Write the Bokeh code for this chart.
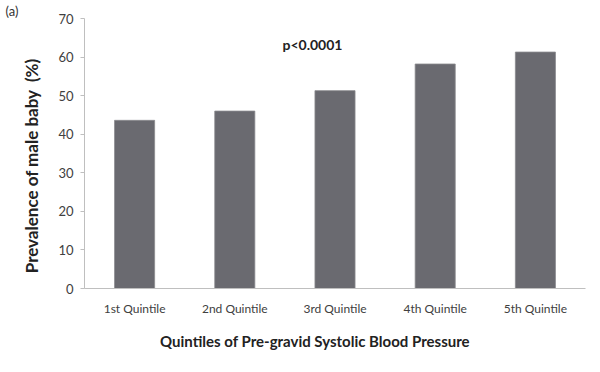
from bokeh.plotting import figure
from bokeh.models import Label, Range1d
from bokeh.embed import file_html
from bokeh.resources import INLINE

categories = ["1st Quintile", "2nd Quintile", "3rd Quintile", "4th Quintile", "5th Quintile"]
prevalence = [43.6, 46.0, 51.3, 58.2, 61.3]
y_ticks = [0, 10, 20, 30, 40, 50, 60, 70]

W, H = 600, 372
FL, FR, FT, FB = 84, 585, 18, 288   # frame edges in page pixels
FONT = "Lato"
NB = "\u00a0"

p = figure(x_range=categories, width=W, height=H, output_backend="svg",
           toolbar_location=None, min_border_left=FL, min_border_right=W - FR,
           min_border_top=FT, min_border_bottom=H - FB)
p.y_range = Range1d(0, 70)
p.vbar(x=categories, top=prevalence, width=0.4, fill_color="#6a6a70",
       line_color="#8a8a8e", line_width=0.8)

p.grid.visible = False
p.outline_line_color = None
p.background_fill_color = "white"
p.border_fill_color = "white"

p.title.text = "(a)"
p.title.text_font = FONT
p.title.text_font_size = "13px"
p.title.text_font_style = "normal"
p.title.text_color = "#333333"
p.title.align = "left"
p.title.offset = -79
p.title.standoff = 0

p.yaxis.ticker = y_ticks
p.yaxis.axis_line_color = "#bfbfbf"
p.yaxis.major_tick_line_color = "#bfbfbf"
p.yaxis.major_tick_out = 4
p.yaxis.major_tick_in = 0
p.yaxis.minor_tick_line_color = None
p.yaxis.major_label_text_font = FONT
p.yaxis.major_label_text_font_size = "13px"
p.yaxis.major_label_text_color = "#404040"
p.yaxis.major_label_standoff = 7
p.yaxis.axis_label = "Prevalence of male baby" + NB + " (%)" + NB * 6
p.yaxis.axis_label_text_font = FONT
p.yaxis.axis_label_text_font_size = "17px"
p.yaxis.axis_label_text_font_style = "bold"
p.yaxis.axis_label_text_color = "#222222"
p.yaxis.axis_label_standoff = 13

p.xaxis.axis_line_color = "#bfbfbf"
p.xaxis.major_tick_line_color = None
p.xaxis.minor_tick_line_color = None
p.xaxis.major_label_text_font = FONT
p.xaxis.major_label_text_font_size = "12px"
p.xaxis.major_label_text_color = "#404040"
p.xaxis.major_label_standoff = 6
p.xaxis.axis_label = "Quintiles of Pre-gravid Systolic Blood Pressure" + NB * 11
p.xaxis.axis_label_text_font = FONT
p.xaxis.axis_label_text_font_size = "15px"
p.xaxis.axis_label_text_font_style = "bold"
p.xaxis.axis_label_text_color = "#222222"
p.xaxis.axis_label_standoff = 13

p.add_layout(Label(x=2.275, y=63.3, text="p<0.0001", text_font=FONT,
                   text_font_size="14px", text_font_style="bold",
                   text_align="center", text_baseline="middle", text_color="#222222"))

open("out.html", "w").write(file_html(p, INLINE))
